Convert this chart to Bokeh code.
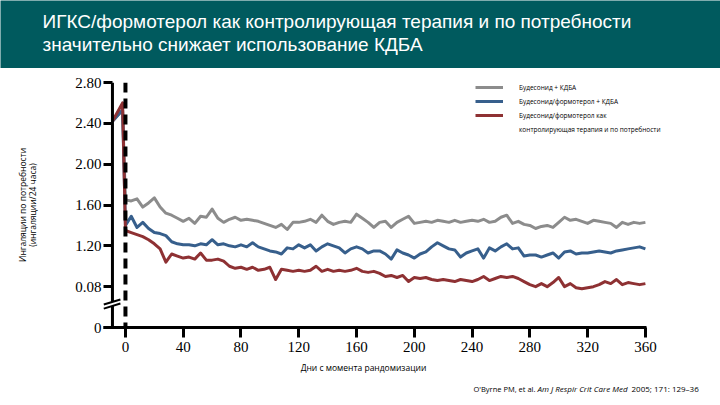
from bokeh.plotting import figure
from bokeh.models import Range1d, Span, Label, Legend, LegendItem, FixedTicker
from bokeh.layouts import column
from bokeh.embed import file_html
from bokeh.resources import INLINE

TEAL = "#005a5e"
GREY = "#8c8c8c"
BLUE = "#375f8c"
RED = "#8e3133"

title_lines = ["ИГКС/формотерол как контролирующая терапия и по потребности",
               "значительно снижает использование КДБА"]
series_names = ["Будесонид + КДБА",
                "Будесонид/формотерол + КДБА",
                "Будесонид/формотерол как",
                "контролирующая терапия и по потребности"]
y_title = "Ингаляции по потребности\n(ингаляции/24 часа)"
x_title = "Дни с момента рандомизации"
citation = ["O'Byrne PM, et al. ", "Am J Respir Crit Care Med", "2005; 171: 129–36"]

x_ticks = [0, 40, 80, 120, 160, 200, 240, 280, 320, 360]
y_ticks = [0.4, 0.8, 1.2, 1.6, 2.0, 2.4, 2.8]
y_tick_labels = ["0", "0.08", "1.20", "1.60", "2.00", "2.40", "2.80"]

pre_days = [-9, -2]
days = list(range(0, 361, 4))

grey_pre = [2.42, 2.53]
blue_pre = [2.42, 2.53]
red_pre = [2.42, 2.60]

grey = [
    1.65, 1.64, 1.66, 1.58, 1.62, 1.67, 1.58, 1.52, 1.50, 1.47,
    1.44, 1.47, 1.42, 1.49, 1.48, 1.56, 1.47, 1.43, 1.46, 1.48,
    1.45, 1.46, 1.45, 1.44, 1.42, 1.40, 1.38, 1.41, 1.36, 1.43,
    1.43, 1.44, 1.46, 1.43, 1.50, 1.44, 1.41, 1.43, 1.44, 1.43,
    1.51, 1.47, 1.43, 1.38, 1.43, 1.44, 1.38, 1.43, 1.46, 1.49,
    1.42, 1.43, 1.44, 1.43, 1.45, 1.44, 1.43, 1.45, 1.43, 1.44,
    1.45, 1.44, 1.46, 1.43, 1.44, 1.48, 1.50, 1.42, 1.44, 1.41,
    1.40, 1.37, 1.39, 1.40, 1.38, 1.43, 1.48, 1.45, 1.46, 1.44,
    1.42, 1.45, 1.44, 1.43, 1.42, 1.38, 1.43, 1.41, 1.43, 1.42,
    1.43]

blue = [
    1.40, 1.49, 1.38, 1.43, 1.37, 1.33, 1.32, 1.30, 1.24, 1.22,
    1.21, 1.21, 1.20, 1.22, 1.21, 1.26, 1.21, 1.22, 1.20, 1.19,
    1.21, 1.19, 1.23, 1.19, 1.17, 1.15, 1.14, 1.12, 1.18, 1.17,
    1.21, 1.18, 1.21, 1.15, 1.19, 1.22, 1.20, 1.18, 1.13, 1.17,
    1.19, 1.17, 1.13, 1.15, 1.15, 1.12, 1.07, 1.16, 1.13, 1.11,
    1.08, 1.12, 1.14, 1.19, 1.23, 1.20, 1.17, 1.16, 1.09, 1.13,
    1.15, 1.17, 1.08, 1.18, 1.15, 1.19, 1.22, 1.17, 1.18, 1.10,
    1.11, 1.11, 1.09, 1.11, 1.13, 1.08, 1.14, 1.15, 1.12, 1.13,
    1.13, 1.14, 1.15, 1.14, 1.13, 1.15, 1.16, 1.17, 1.18, 1.19,
    1.17]

red = [
    1.35, 1.33, 1.31, 1.29, 1.26, 1.22, 1.17, 1.04, 1.12, 1.10,
    1.08, 1.09, 1.07, 1.13, 1.06, 1.06, 1.07, 1.05, 1.00, 0.98,
    0.99, 0.97, 0.99, 0.96, 0.97, 0.99, 0.87, 0.97, 0.96, 0.95,
    0.96, 0.95, 0.96, 1.00, 0.95, 0.97, 0.95, 0.96, 0.95, 0.96,
    0.98, 0.95, 0.94, 0.95, 0.93, 0.90, 0.91, 0.89, 0.91, 0.85,
    0.89, 0.88, 0.89, 0.87, 0.86, 0.87, 0.86, 0.85, 0.87, 0.86,
    0.85, 0.87, 0.90, 0.86, 0.88, 0.90, 0.89, 0.90, 0.88, 0.85,
    0.82, 0.80, 0.83, 0.80, 0.84, 0.89, 0.80, 0.83, 0.79, 0.78,
    0.79, 0.80, 0.82, 0.85, 0.83, 0.87, 0.82, 0.84, 0.83, 0.82,
    0.83]

W = 720
TITLE_H = 68
MAIN_H = 293
FOOT_H = 405 - TITLE_H - MAIN_H


def blank(height, bg):
    f = figure(width=W, height=height, x_range=Range1d(0, W), y_range=Range1d(0, height),
               output_backend="svg", toolbar_location=None, min_border=0,
               x_axis_location=None, y_axis_location=None)
    f.grid.visible = False
    f.outline_line_color = None
    f.background_fill_color = bg
    f.border_fill_color = bg
    f.frame_align = False
    return f


# ---------------- title banner ----------------
t = blank(TITLE_H, TEAL)
t.add_layout(Label(x=42, y=47, text=title_lines[0], text_color="white",
                   text_font="Liberation Sans", text_font_size="19px", text_baseline="middle"))
t.add_layout(Label(x=42, y=24, text=title_lines[1], text_color="white",
                   text_font="Liberation Sans", text_font_size="19px", text_baseline="middle"))

# ---------------- main chart ----------------
p = figure(width=W, height=MAIN_H, x_range=Range1d(-15.2, 412.0), y_range=Range1d(0.4, 2.8),
           output_backend="svg", toolbar_location=None,
           min_border_left=103, min_border_right=0, min_border_top=14, min_border_bottom=34)
p.frame_align = False
p.grid.visible = False
p.outline_line_color = None

rg = p.line(pre_days + days, grey_pre + grey, line_color=GREY, line_width=3, line_join="round")
rb = p.line(pre_days + days, blue_pre + blue, line_color=BLUE, line_width=3, line_join="round")
rr = p.line(pre_days + days, red_pre + red, line_color=RED, line_width=3, line_join="round")
# empty, transparent renderer used only to carry the second legend text line
r_blank = p.line([], [], line_alpha=0)

tick_font = "Liberation Serif"
p.xaxis.ticker = FixedTicker(ticks=x_ticks)
p.xaxis.bounds = (-15.2, 360.8)
p.xaxis.axis_line_width = 3
p.xaxis.major_tick_line_width = 3
p.xaxis.major_tick_out = 10
p.xaxis.major_tick_in = 0
p.xaxis.minor_tick_line_color = None
p.xaxis.major_label_text_font = tick_font
p.xaxis.major_label_text_font_size = "15px"
p.xaxis.major_label_standoff = 4
p.xaxis.major_label_text_color = "black"

p.yaxis.ticker = FixedTicker(ticks=y_ticks)
p.yaxis.major_label_overrides = {k: v for k, v in zip(y_ticks, y_tick_labels)}
p.yaxis.axis_line_color = None
p.yaxis.major_tick_line_width = 3
p.yaxis.major_tick_in = 9
p.yaxis.major_tick_out = 0
p.yaxis.minor_tick_line_color = None
p.yaxis.major_label_text_font = tick_font
p.yaxis.major_label_text_font_size = "15px"
p.yaxis.major_label_standoff = 2
p.yaxis.major_label_text_color = "black"
p.yaxis.axis_label = y_title
p.yaxis.axis_label_text_font = "Open Sans"
p.yaxis.axis_label_text_font_style = "normal"
p.yaxis.axis_label_text_font_size = "8.5px"
p.yaxis.axis_label_text_line_height = 0.9
p.yaxis.axis_label_standoff = 34
p.yaxis.axis_label_text_color = "black"

# y axis line and randomisation marker
p.add_layout(Span(location=-9, dimension="height", line_color="black", line_width=3))
p.add_layout(Span(location=0, dimension="height", line_color="black", line_width=4, line_dash="10 6"))

# axis break mark
brk = p.patch([-15.0, -3.5, -3.5, -15.0], [0.585, 0.635, 0.675, 0.625], fill_color="white",
              line_color=None)
brk.level = "overlay"
b1 = p.line([-15.0, -3.5], [0.585, 0.635], line_color="black", line_width=2)
b1.level = "overlay"
b2 = p.line([-15.0, -3.5], [0.625, 0.675], line_color="black", line_width=2)
b2.level = "overlay"

legend = Legend(items=[LegendItem(label=series_names[0], renderers=[rg]),
                       LegendItem(label=series_names[1], renderers=[rb]),
                       LegendItem(label=series_names[2], renderers=[rr]),
                       LegendItem(label=series_names[3], renderers=[r_blank])],
                location=(372, 193), padding=0, margin=0, spacing=4,
                glyph_width=28, glyph_height=10, label_height=10, label_standoff=16,
                label_text_font="Open Sans", label_text_font_size="6.5px",
                label_text_color="black",
                border_line_color=None, background_fill_alpha=0)
p.add_layout(legend)

# ---------------- footer (x title + citation) ----------------
f = blank(FOOT_H, "white")
f.add_layout(Label(x=363, y=FOOT_H - 6, text=x_title, text_align="center", text_baseline="middle",
                   text_font="Open Sans", text_font_size="8.5px", text_color="black"))
f.add_layout(Label(x=473, y=FOOT_H - 27, text=citation[0], text_align="left", text_baseline="middle",
                   text_font="Open Sans", text_font_size="7.5px", text_color="black"))
f.add_layout(Label(x=537, y=FOOT_H - 27, text=citation[1], text_align="left", text_baseline="middle",
                   text_font="Open Sans", text_font_style="italic", text_font_size="8px",
                   text_color="black"))
f.add_layout(Label(x=631, y=FOOT_H - 27, text=citation[2], text_align="left", text_baseline="middle",
                   text_font="Open Sans", text_font_size="8px", text_color="black"))

layout = column(t, p, f, spacing=0)
open("out.html", "w").write(file_html(layout, INLINE))
